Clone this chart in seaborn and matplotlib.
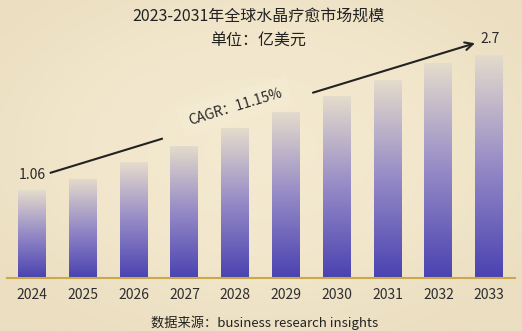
import numpy as np
import pandas as pd
import matplotlib
matplotlib.use("Agg")
import matplotlib.pyplot as plt
from matplotlib.colors import LinearSegmentedColormap
import seaborn as sns

years = ["2024", "2025", "2026", "2027", "2028", "2029", "2030", "2031", "2032", "2033"]
values = [1.06, 1.20, 1.40, 1.60, 1.81, 2.01, 2.20, 2.40, 2.60, 2.70]
title = "2023-2031年全球水晶疗愈市场规模"
subtitle = "单位：亿美元"
source = "数据来源：business research insights"
cagr_label = "CAGR：11.15%"
start_label = "1.06"
end_label = "2.7"

sns.set_theme(style="white")
plt.rcParams['font.family'] = ['Noto Sans CJK SC', 'DejaVu Sans']

W, H, DPI = 522, 331, 100
fig = plt.figure(figsize=(W / DPI, H / DPI), dpi=DPI)
bg = "#f2e7cc"
fig.patch.set_facecolor(bg)

# parchment background with soft vignette
bgax = fig.add_axes([0, 0, 1, 1], zorder=-10)
yy, xx = np.mgrid[0:1:200j, 0:1:300j]
r = np.sqrt(((xx - 0.5) / 0.65) ** 2 + ((yy - 0.45) / 0.65) ** 2)
vcm = LinearSegmentedColormap.from_list("vig", ["#f4ead1", "#f2e7cc", "#ebdec1"])
bgax.imshow(np.clip(r, 0, 1), cmap=vcm, vmin=0, vmax=1, aspect="auto",
            extent=[0, 1, 0, 1], interpolation="bicubic")
bgax.set_axis_off()

ax = fig.add_axes([6.6 / W, 53 / H, 508 / W, 248 / H])
ax.patch.set_alpha(0)
df = pd.DataFrame({"year": years, "value": values})
sns.barplot(data=df, x="year", y="value", ax=ax, color="#5a50b4", width=0.55,
            saturation=1, errorbar=None)

gcm = LinearSegmentedColormap.from_list("bar", ["#4a42b1", "#958ac6", "#e5dccc"])
grad = np.linspace(0, 1, 256).reshape(-1, 1)
for p in list(ax.patches):
    x0, y0 = p.get_x(), p.get_y()
    w, h = p.get_width(), p.get_height()
    im = ax.imshow(grad, cmap=gcm, origin="lower", aspect="auto",
                   extent=[x0, x0 + w, y0, y0 + h], zorder=2, interpolation="bicubic")
    im.set_clip_path(p)
    p.set_facecolor("none")
    p.set_edgecolor("none")

ax.set_xlim(-0.5, 9.5)
ax.set_ylim(0, 3.0)
ax.set_xlabel("")
ax.set_ylabel("")
ax.set_yticks([])
for s in ["top", "right", "left"]:
    ax.spines[s].set_visible(False)
ax.spines["bottom"].set_color("#c9a94a")
ax.spines["bottom"].set_linewidth(1.5)
ax.spines["bottom"].set_zorder(5)
ax.tick_params(axis="x", length=0, pad=7, labelsize=10, labelcolor="#2e2e2e")

# value labels
ax.text(0, values[0] + 0.19, start_label, ha="center", va="center", fontsize=10, color="#2a2a2a")
ax.text(9.02, values[-1] + 0.19, end_label, ha="center", va="center", fontsize=10, color="#2a2a2a")

# trend arrow with gap for CAGR label
sx, sy = 0.35, values[0] + 0.21
ex, ey = 9 - 0.28, values[-1] + 0.14
t1, t2 = 0.266, 0.619
ax.plot([sx, sx + (ex - sx) * t1], [sy, sy + (ey - sy) * t1], color="#222222", lw=1.5,
        solid_capstyle="butt", zorder=6, clip_on=False)
ax.annotate("", xy=(ex, ey), xytext=(sx + (ex - sx) * t2, sy + (ey - sy) * t2),
            arrowprops=dict(arrowstyle="->", color="#222222", lw=1.5, mutation_scale=14,
                            shrinkA=0, shrinkB=0),
            zorder=6, annotation_clip=False)
ax.text(4.0, 2.07, cagr_label, rotation=17, rotation_mode="anchor", ha="center", va="center",
        fontsize=10, color="#2a2a2a", zorder=7,
        bbox=dict(boxstyle="square,pad=0.6", facecolor="#f5ecd6", edgecolor="none", alpha=0.5))

fig.text(258 / W, 1 - 16 / H, title, ha="center", va="center", fontsize=11.5, color="#222222")
fig.text(258 / W, 1 - 40 / H, subtitle, ha="center", va="center", fontsize=11.5, color="#222222")
fig.text(265 / W, 1 - 323 / H, source, ha="center", va="center", fontsize=9.5, color="#222222")

fig.savefig("out.png", dpi=DPI, facecolor=fig.get_facecolor())
